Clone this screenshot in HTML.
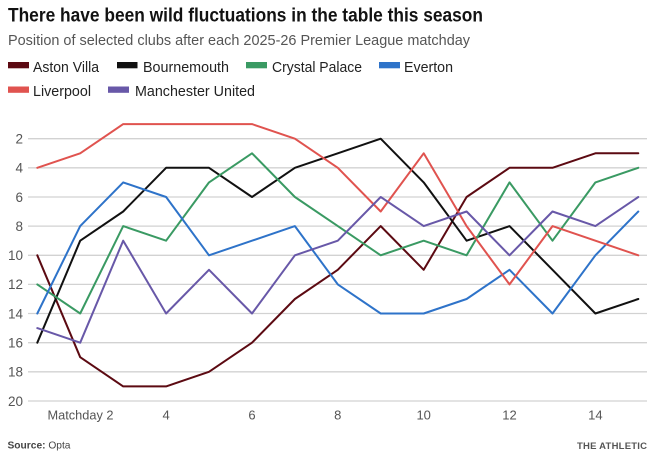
<!DOCTYPE html>
<html>
<head>
<meta charset="utf-8">
<style>
html,body{margin:0;padding:0;background:#fff;}
svg{display:block;}
text{font-family:"Liberation Sans",Arial,sans-serif;}
</style>
</head>
<body>
<svg width="660" height="457" viewBox="0 0 660 457" xmlns="http://www.w3.org/2000/svg">
<rect width="660" height="457" fill="#fff"/>
<text x="8" y="21.5" font-size="19.5" font-weight="bold" fill="#121212" textLength="475" lengthAdjust="spacingAndGlyphs">There have been wild fluctuations in the table this season</text>
<text x="8" y="45" font-size="15" fill="#555" textLength="462" lengthAdjust="spacingAndGlyphs">Position of selected clubs after each 2025-26 Premier League matchday</text>

<!-- legend -->
<g font-size="14.5" fill="#222">
<rect x="8" y="62" width="21" height="6.3" fill="#5c0a12"/>
<text x="33" y="72" textLength="66" lengthAdjust="spacingAndGlyphs">Aston Villa</text>
<rect x="117" y="62" width="20.5" height="6.3" fill="#111"/>
<text x="143" y="72" textLength="86" lengthAdjust="spacingAndGlyphs">Bournemouth</text>
<rect x="246" y="62" width="21" height="6.3" fill="#3a9a63"/>
<text x="272" y="72" textLength="90" lengthAdjust="spacingAndGlyphs">Crystal Palace</text>
<rect x="379" y="62" width="21" height="6.3" fill="#2e73c9"/>
<text x="404" y="72" textLength="49" lengthAdjust="spacingAndGlyphs">Everton</text>
<rect x="8" y="86.5" width="21" height="6.3" fill="#e0534f"/>
<text x="33" y="96" textLength="58" lengthAdjust="spacingAndGlyphs">Liverpool</text>
<rect x="108" y="86.5" width="21" height="6.3" fill="#6858a8"/>
<text x="135" y="96" textLength="120" lengthAdjust="spacingAndGlyphs">Manchester United</text>
</g>

<!-- grid -->
<g stroke="#d2d2d2" stroke-width="1.3">
<line x1="28" x2="647" y1="138.7" y2="138.7"/>
<line x1="28" x2="647" y1="167.8" y2="167.8"/>
<line x1="28" x2="647" y1="197" y2="197"/>
<line x1="28" x2="647" y1="226.1" y2="226.1"/>
<line x1="28" x2="647" y1="255.3" y2="255.3"/>
<line x1="28" x2="647" y1="284.4" y2="284.4"/>
<line x1="28" x2="647" y1="313.5" y2="313.5"/>
<line x1="28" x2="647" y1="342.7" y2="342.7"/>
<line x1="28" x2="647" y1="371.8" y2="371.8"/>
<line x1="28" x2="647" y1="401" y2="401"/>
</g>

<!-- y labels -->
<g font-size="13.5" fill="#555" text-anchor="end">
<text x="23" y="143.5">2</text>
<text x="23" y="172.6">4</text>
<text x="23" y="201.8">6</text>
<text x="23" y="230.9">8</text>
<text x="23" y="260.1">10</text>
<text x="23" y="289.2">12</text>
<text x="23" y="318.3">14</text>
<text x="23" y="347.5">16</text>
<text x="23" y="376.6">18</text>
<text x="23" y="405.8">20</text>
</g>

<!-- x labels -->
<g font-size="13" fill="#555" text-anchor="middle">
<text x="80.5" y="419.5" textLength="66" lengthAdjust="spacingAndGlyphs">Matchday 2</text>
<text x="166.1" y="419.5">4</text>
<text x="252" y="419.5">6</text>
<text x="337.8" y="419.5">8</text>
<text x="423.7" y="419.5">10</text>
<text x="509.5" y="419.5">12</text>
<text x="595.4" y="419.5">14</text>
</g>

<!-- series -->
<g fill="none" stroke-width="2" stroke-linejoin="round" stroke-linecap="round">
<polyline stroke="#5c0a12" points="37.3,255.3 80.2,357.2 123.2,386.4 166.1,386.4 209,371.8 252,342.7 294.9,299 337.8,269.8 380.7,226.1 423.7,269.8 466.6,197 509.5,167.8 552.5,167.8 595.4,153.3 638.3,153.3"/>
<polyline stroke="#111111" points="37.3,342.7 80.2,240.7 123.2,211.5 166.1,167.8 209,167.8 252,197 294.9,167.8 337.8,153.3 380.7,138.7 423.7,182.4 466.6,240.7 509.5,226.1 552.5,269.8 595.4,313.5 638.3,299"/>
<polyline stroke="#3a9a63" points="37.3,284.4 80.2,313.5 123.2,226.1 166.1,240.7 209,182.4 252,153.3 294.9,197 337.8,226.1 380.7,255.3 423.7,240.7 466.6,255.3 509.5,182.4 552.5,240.7 595.4,182.4 638.3,167.8"/>
<polyline stroke="#2e73c9" points="37.3,313.5 80.2,226.1 123.2,182.4 166.1,197 209,255.3 252,240.7 294.9,226.1 337.8,284.4 380.7,313.5 423.7,313.5 466.6,299 509.5,269.8 552.5,313.5 595.4,255.3 638.3,211.5"/>
<polyline stroke="#e0534f" points="37.3,167.8 80.2,153.3 123.2,124.1 166.1,124.1 209,124.1 252,124.1 294.9,138.7 337.8,167.8 380.7,211.5 423.7,153.3 466.6,226.1 509.5,284.4 552.5,226.1 595.4,240.7 638.3,255.3"/>
<polyline stroke="#6858a8" points="37.3,328.1 80.2,342.7 123.2,240.7 166.1,313.5 209,269.8 252,313.5 294.9,255.3 337.8,240.7 380.7,197 423.7,226.1 466.6,211.5 509.5,255.3 552.5,211.5 595.4,226.1 638.3,197"/>
</g>

<!-- footer -->
<text x="7.5" y="448.3" font-size="10.5" fill="#444" textLength="63" lengthAdjust="spacingAndGlyphs"><tspan font-weight="bold">Source:</tspan> Opta</text>
<text x="647" y="449" font-size="9.5" font-weight="bold" fill="#555" text-anchor="end" textLength="70" lengthAdjust="spacing">THE ATHLETIC</text>
</svg>
</body>
</html>
